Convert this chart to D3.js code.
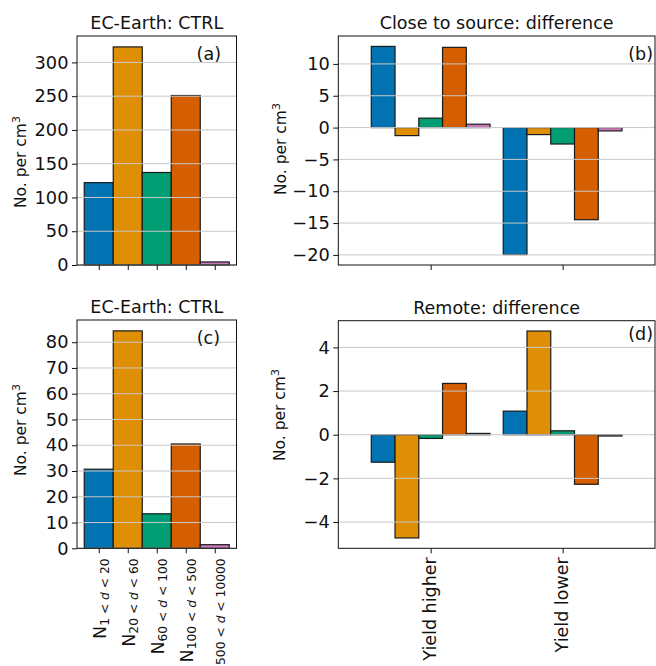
<!DOCTYPE html>
<html>
<head>
<meta charset="utf-8">
<script src="https://cdn.jsdelivr.net/npm/d3@7"></script>
<style>
body { margin: 0; background: #fff; }
text { font-family: "DejaVu Sans", sans-serif; fill: #111; }
</style>
</head>
<body>
<div id="fig"></div>
<script>
// size bins (lower, upper diameter) and scenario groups
var sizeBins = [["1", "20"], ["20", "60"], ["60", "100"], ["100", "500"], ["500", "10000"]];
var groups = ["Yield higher", "Yield lower"];
var colors = ["#0173b2", "#de8f05", "#029e73", "#d55e00", "#cc78bc"];

// (a) close to source, control
var ctrlClose = [122, 323, 137, 251, 4.5];
// (b) close to source, difference
var closeHigher = [12.75, -1.26, 1.48, 12.6, 0.53];
var closeLower = [-19.95, -1.1, -2.58, -14.47, -0.52];
// (c) remote, control
var ctrlRemote = [30.7, 84.4, 13.4, 40.5, 1.4];
// (d) remote, difference
var remoteHigher = [-1.26, -4.73, -0.17, 2.35, 0.06];
var remoteLower = [1.08, 4.75, 0.18, -2.27, -0.06];

var ticksA = [0, 50, 100, 150, 200, 250, 300];
var ticksB = [-20, -15, -10, -5, 0, 5, 10];
var ticksC = [0, 10, 20, 30, 40, 50, 60, 70, 80];
var ticksD = [-4, -2, 0, 2, 4];

var svg = d3.select("#fig").append("svg")
    .attr("width", 656)
    .attr("height", 666);

var tickFont = 17.8;

function makePanel(o) {
    var g = svg.append("g");
    var xs = d3.scaleLinear().domain(o.xlim).range([o.left, o.right]);
    var ys = d3.scaleLinear().domain(o.ylim).range([o.bottom, o.top]);

    // bars
    g.selectAll("rect.bar")
        .data(o.bars).enter().append("rect")
        .attr("class", "bar")
        .attr("x", function (d) { return xs(d.pos - d.w / 2); })
        .attr("width", function (d) { return xs(d.pos + d.w / 2) - xs(d.pos - d.w / 2); })
        .attr("y", function (d) { return ys(Math.max(0, d.v)); })
        .attr("height", function (d) { return Math.abs(ys(d.v) - ys(0)); })
        .style("fill", function (d) { return colors[d.i]; })
        .style("stroke", "#1a1a1a")
        .style("stroke-width", 1.2);

    // horizontal grid, on top of bars
    g.selectAll("line.grid")
        .data(o.ticks).enter().append("line")
        .attr("class", "grid")
        .attr("x1", o.left).attr("x2", o.right)
        .attr("y1", function (d) { return ys(d); })
        .attr("y2", function (d) { return ys(d); })
        .style("stroke", "#c8c8c8")
        .style("stroke-width", 1);

    // spines
    g.append("rect")
        .attr("x", o.left).attr("y", o.top)
        .attr("width", o.right - o.left).attr("height", o.bottom - o.top)
        .style("fill", "none")
        .style("stroke", "#111")
        .style("stroke-width", 1);

    var yAxis = d3.axisLeft(ys).tickValues(o.ticks).tickSizeOuter(0).tickSize(5).tickPadding(3.5);
    var ya = g.append("g").attr("transform", "translate(" + o.left + ",0)").call(yAxis);
    ya.select(".domain").remove();
    ya.selectAll("line").style("stroke", "#111");
    ya.selectAll("text").style("font-size", tickFont + "px").style("fill", "#111")
        .style("font-family", "DejaVu Sans");

    var xAxis = d3.axisBottom(xs).tickValues(o.xticks).tickSizeOuter(0).tickSize(5).tickFormat("");
    var xa = g.append("g").attr("transform", "translate(0," + o.bottom + ")").call(xAxis);
    xa.select(".domain").remove();
    xa.selectAll("line").style("stroke", "#111");

    // title
    g.append("text")
        .attr("x", (o.left + o.right) / 2)
        .attr("y", o.top - 7)
        .attr("text-anchor", "middle")
        .style("font-size", "17.5px")
        .text(o.title);

    // panel letter
    g.append("text")
        .attr("x", o.labelX)
        .attr("y", o.labelY)
        .attr("text-anchor", "end")
        .style("font-size", "17.5px")
        .text(o.label);

    // y label
    var yl = g.append("text")
        .attr("transform", "translate(" + o.ylabX + "," + o.ylabY + ") rotate(-90)")
        .attr("text-anchor", "middle")
        .attr("dy", "0.35em")
        .style("font-size", "15.5px");
    yl.append("tspan").text("No. per cm");
    yl.append("tspan").attr("baseline-shift", "super").style("font-size", "11px").text("3");

    return { g: g, xs: xs, ys: ys, o: o };
}

function ctrlBars(vals) {
    return vals.map(function (v, i) { return { pos: i, w: 1, v: v, i: i }; });
}
function diffBars(a, b) {
    var out = [];
    [a, b].forEach(function (vals, gi) {
        vals.forEach(function (v, i) {
            out.push({ pos: gi + (i - 2) * 0.18, w: 0.18, v: v, i: i });
        });
    });
    return out;
}
function ctrlLim(vals) {
    return [0, d3.max(vals) * 1.05];
}
function diffLim(a, b) {
    var all = a.concat(b);
    var lo = Math.min(0, d3.min(all)), hi = Math.max(0, d3.max(all));
    var m = (hi - lo) * 0.05;
    return [lo - m, hi + m];
}

var catIdx = sizeBins.map(function (d, i) { return i; });
var grpIdx = groups.map(function (d, i) { return i; });

makePanel({
    left: 77, right: 236.5, top: 36, bottom: 265,
    xlim: [-0.75, 4.75], ylim: ctrlLim(ctrlClose), ticks: ticksA, xticks: catIdx,
    bars: ctrlBars(ctrlClose), title: "EC-Earth: CTRL", label: "(a)",
    labelX: 221, labelY: 60, ylabX: 21, ylabY: 162
});
makePanel({
    left: 338.3, right: 655, top: 36, bottom: 265,
    xlim: [-0.7, 1.7], ylim: diffLim(closeHigher, closeLower), ticks: ticksB, xticks: grpIdx,
    bars: diffBars(closeHigher, closeLower), title: "Close to source: difference", label: "(b)",
    labelX: 653, labelY: 60, ylabX: 281, ylabY: 149
});
var pc = makePanel({
    left: 77, right: 236.5, top: 320, bottom: 548.3,
    xlim: [-0.75, 4.75], ylim: ctrlLim(ctrlRemote), ticks: ticksC, xticks: catIdx,
    bars: ctrlBars(ctrlRemote), title: "EC-Earth: CTRL", label: "(c)",
    labelX: 220, labelY: 343.5, ylabX: 20.5, ylabY: 430
});
var pd = makePanel({
    left: 338.3, right: 655, top: 320.7, bottom: 548.3,
    xlim: [-0.7, 1.7], ylim: diffLim(remoteHigher, remoteLower), ticks: ticksD, xticks: grpIdx,
    bars: diffBars(remoteHigher, remoteLower), title: "Remote: difference", label: "(d)",
    labelX: 653, labelY: 340, ylabX: 280, ylabY: 415
});

// size-bin labels under (c)
sizeBins.forEach(function (b, i) {
    var t = pc.g.append("text")
        .attr("transform", "translate(" + (pc.xs(i) + 7.5) + "," + (pc.o.bottom + 10) + ") rotate(-90)")
        .attr("text-anchor", "end")
        .style("font-size", "17.5px");
    t.append("tspan").text("N");
    var s = t.append("tspan").attr("baseline-shift", "-3px").style("font-size", "12.3px");
    s.append("tspan").text(b[0] + " < ");
    s.append("tspan").style("font-style", "italic").text("d");
    s.append("tspan").text(" < " + b[1]);
});

// group labels under (d)
groups.forEach(function (name, i) {
    pd.g.append("text")
        .attr("transform", "translate(" + pd.xs(i) + "," + (pd.o.bottom + 9) + ") rotate(-90)")
        .attr("text-anchor", "end")
        .attr("dy", "0.3em")
        .style("font-size", "17.5px")
        .text(name);
});
</script>
</body>
</html>
